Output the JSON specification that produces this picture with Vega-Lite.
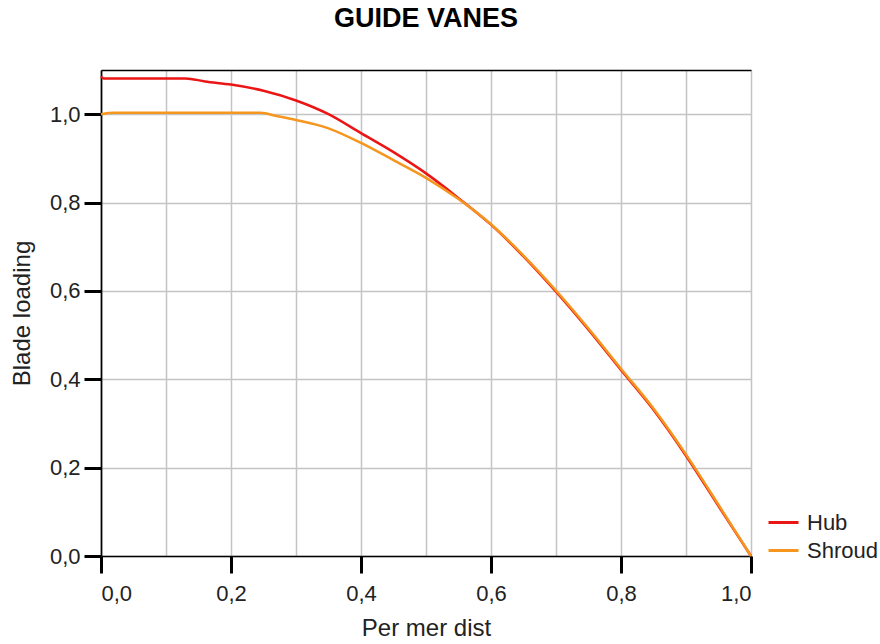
{
  "$schema": "https://vega.github.io/schema/vega-lite/v6.json",
  "autosize": {"type": "none"},
  "width": 650,
  "height": 486,
  "padding": {"left": 101, "top": 70, "right": 129, "bottom": 88},
  "background": "white",
  "title": {"text": "GUIDE VANES", "font": "Liberation Sans", "fontSize": 27, "fontWeight": "bold", "color": "#000000", "anchor": "middle", "frame": "group", "baseline": "alphabetic", "offset": 16},
  "data": {"values": [
    {"s": "Hub", "d": 0, "bl": 1.086},
    {"s": "Hub", "d": 0.004, "bl": 1.081},
    {"s": "Hub", "d": 0.13, "bl": 1.081},
    {"s": "Hub", "d": 0.16, "bl": 1.074},
    {"s": "Hub", "d": 0.2, "bl": 1.067},
    {"s": "Hub", "d": 0.25, "bl": 1.053},
    {"s": "Hub", "d": 0.3, "bl": 1.031},
    {"s": "Hub", "d": 0.35, "bl": 1.0},
    {"s": "Hub", "d": 0.4, "bl": 0.957},
    {"s": "Hub", "d": 0.45, "bl": 0.914},
    {"s": "Hub", "d": 0.5, "bl": 0.866},
    {"s": "Hub", "d": 0.55, "bl": 0.81},
    {"s": "Hub", "d": 0.6, "bl": 0.75},
    {"s": "Hub", "d": 0.65, "bl": 0.678},
    {"s": "Hub", "d": 0.7, "bl": 0.598},
    {"s": "Hub", "d": 0.75, "bl": 0.512},
    {"s": "Hub", "d": 0.8, "bl": 0.421},
    {"s": "Hub", "d": 0.85, "bl": 0.331},
    {"s": "Hub", "d": 0.9, "bl": 0.227},
    {"s": "Hub", "d": 0.95, "bl": 0.113},
    {"s": "Hub", "d": 1.0, "bl": 0.0},
    {"s": "Shroud", "d": 0, "bl": 1.0},
    {"s": "Shroud", "d": 0.02, "bl": 1.003},
    {"s": "Shroud", "d": 0.245, "bl": 1.003},
    {"s": "Shroud", "d": 0.27, "bl": 0.996},
    {"s": "Shroud", "d": 0.3, "bl": 0.987},
    {"s": "Shroud", "d": 0.35, "bl": 0.968},
    {"s": "Shroud", "d": 0.4, "bl": 0.935},
    {"s": "Shroud", "d": 0.45, "bl": 0.896},
    {"s": "Shroud", "d": 0.5, "bl": 0.856},
    {"s": "Shroud", "d": 0.55, "bl": 0.808},
    {"s": "Shroud", "d": 0.6, "bl": 0.751},
    {"s": "Shroud", "d": 0.65, "bl": 0.68},
    {"s": "Shroud", "d": 0.7, "bl": 0.601},
    {"s": "Shroud", "d": 0.75, "bl": 0.515},
    {"s": "Shroud", "d": 0.8, "bl": 0.424},
    {"s": "Shroud", "d": 0.85, "bl": 0.334},
    {"s": "Shroud", "d": 0.9, "bl": 0.23},
    {"s": "Shroud", "d": 0.95, "bl": 0.116},
    {"s": "Shroud", "d": 1.0, "bl": 0.0}
  ]},
  "layer": [
    {
      "mark": {"type": "line", "strokeWidth": 2.5, "clip": false, "interpolate": "monotone"},
      "encoding": {
        "x": {"field": "d", "type": "quantitative", "scale": {"domain": [0, 1], "nice": false, "zero": false},
          "axis": {"orient": "bottom", "title": "Per mer dist", "values": [0, 0.1, 0.2, 0.3, 0.4, 0.5, 0.6, 0.7, 0.8, 0.9, 1.0],
            "labelExpr": "round(datum.value*10) % 2 == 1 ? '' : replace(format(datum.value, '.1f'), '.', ',')",
            "tickOpacity": {"condition": {"test": "round(datum.value*10) % 2 == 1", "value": 0}, "value": 1},
            "tickSize": 17, "tickWidth": 3, "tickColor": "#000000", "labelPadding": 10, "titlePadding": 12,
            "domainColor": "#000000", "domainWidth": 1.7, "grid": true}},
        "y": {"field": "bl", "type": "quantitative", "scale": {"domain": [0, 1.1], "nice": false, "zero": false},
          "axis": {"title": "Blade loading", "values": [0, 0.2, 0.4, 0.6, 0.8, 1.0],
            "labelExpr": "replace(format(datum.value, '.1f'), '.', ',')",
            "tickSize": 17, "tickWidth": 3, "tickColor": "#000000", "labelPadding": 4, "titlePadding": 15,
            "domainColor": "#000000", "domainWidth": 1.7, "grid": true}},
        "color": {"field": "s", "type": "nominal", "scale": {"domain": ["Hub", "Shroud"], "range": ["#ec1515", "#f5961e"]},
          "legend": {"title": null, "orient": "none", "legendX": 666, "legendY": 436, "padding": 0,
            "symbolType": "stroke", "symbolSize": 900, "symbolStrokeWidth": 3, "labelOffset": 7, "rowPadding": 0,
            "labelFontSize": 22, "labelFont": "Liberation Sans", "labelColor": "#222222"}}
      }
    },
    {
      "mark": {"type": "point", "opacity": 0},
      "encoding": {
        "x": {"field": "d", "type": "quantitative",
          "axis": {"orient": "top", "title": null, "labels": false, "ticks": false, "grid": false, "domainColor": "#000000", "domainWidth": 1.7}},
        "y": {"field": "bl", "type": "quantitative"}
      }
    }
  ],
  "resolve": {"axis": {"x": "independent"}},
  "config": {
    "view": {"stroke": null},
    "axis": {"labelFont": "Liberation Sans", "labelFontSize": 22, "labelColor": "#222222", "titleFont": "Liberation Sans", "titleFontSize": 24, "titleFontWeight": "normal", "titleColor": "#222222", "gridColor": "#c4c4c4", "gridWidth": 1.5}
  }
}
